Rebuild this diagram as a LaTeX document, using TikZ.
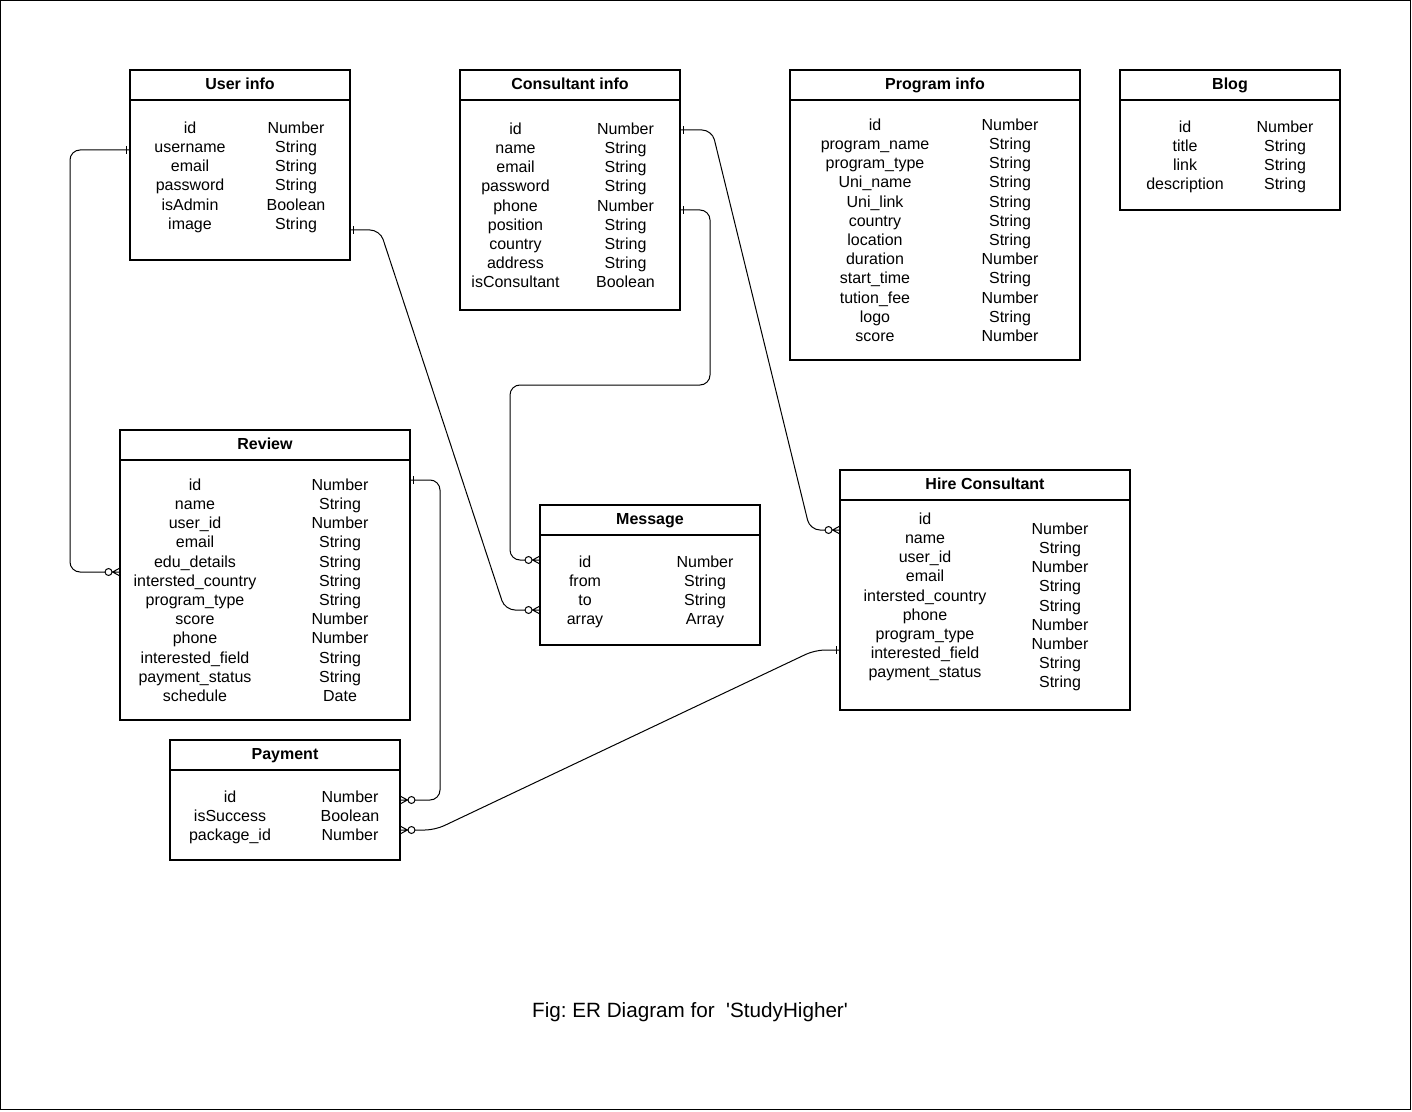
\documentclass[tikz,border=0pt]{standalone}
\usepackage{fontspec}
\setmainfont{Liberation Sans}
\usetikzlibrary{calc}

% crow's foot ends
\pgfdeclarearrow{
  name = ERmany,
  setup code = {
    \pgfarrowssettipend{0pt}
    \pgfarrowssetlineend{-11.2pt}
    \pgfarrowssetbackend{-11.2pt}
    \pgfarrowssetvisualbackend{-11.2pt}
  },
  drawing code = {
    \pgfsetdash{}{0pt}
    \pgfpathcircle{\pgfpoint{-8.6pt}{0pt}}{2.6pt}
    \pgfpathmoveto{\pgfpoint{-6pt}{0pt}}
    \pgfpathlineto{\pgfpoint{0pt}{0pt}}
    \pgfpathmoveto{\pgfpoint{0pt}{3pt}}
    \pgfpathlineto{\pgfpoint{-5.6pt}{0pt}}
    \pgfpathlineto{\pgfpoint{0pt}{-3pt}}
    \pgfusepathqstroke
  }
}
\pgfdeclarearrow{
  name = ERone,
  setup code = {
    \pgfarrowssettipend{0pt}
    \pgfarrowssetlineend{0pt}
    \pgfarrowssetbackend{-3pt}
    \pgfarrowssetvisualbackend{-3pt}
  },
  drawing code = {
    \pgfsetdash{}{0pt}
    \pgfpathmoveto{\pgfpoint{-2.5pt}{3pt}}
    \pgfpathlineto{\pgfpoint{-2.5pt}{-3pt}}
    \pgfusepathqstroke
  }
}

\tikzset{
  entity/.style={draw, line width=0.8pt, rectangle, inner sep=0pt, outer sep=0pt, anchor=north west},
  ehead/.style={draw, line width=0.8pt, minimum height=22.5pt, inner sep=0pt, outer sep=0pt, anchor=north,
    text height=8.6pt, text depth=2.0pt, font=\fontsize{12pt}{14.4pt}\selectfont\bfseries},
  attr/.style={align=center, inner sep=0pt, anchor=north},
  rel/.style={line width=0.75pt, rounded corners=7.5pt},
}

\begin{document}
\begin{tikzpicture}[x=0.75pt, y=-0.75pt, font=\fontsize{12pt}{14.4pt}\selectfont]
    \useasboundingbox (0,0) rectangle (1412,1112);
    % Khung ngoài
    \draw[line width=1pt] (0.7,0.7) rectangle (1410.6,1109.6);

    % User info
    \node[entity, minimum width=165pt, minimum height=142.5pt] (user) at (130,70) {};
    \node[ehead, minimum width=165pt] (userT) at (user.north) {User info};
    \node[attr] (userK) at (190,121.5) {id\\username\\email\\password\\isAdmin\\image};
    \node[attr] (userV) at (296,121.5) {Number\\String\\String\\String\\Boolean\\String};

    % Consultant info
    \node[entity, minimum width=165pt, minimum height=180pt] (cons) at (460,70) {};
    \node[ehead, minimum width=165pt] (consT) at (cons.north) {Consultant info};
    \node[attr] (consK) at (515.5,122.5) {id\\name\\email\\password\\phone\\position\\country\\address\\isConsultant};
    \node[attr] (consV) at (625.5,122.5) {Number\\String\\String\\String\\Number\\String\\String\\String\\Boolean};

    % Program info
    \node[entity, minimum width=217.5pt, minimum height=217.5pt] (prog) at (790,70) {};
    \node[ehead, minimum width=217.5pt] (progT) at (prog.north) {Program info};
    \node[attr] (progK) at (875,118.5) {id\\program\_name\\program\_type\\Uni\_name\\Uni\_link\\country\\location\\duration\\start\_time\\tution\_fee\\logo\\score};
    \node[attr] (progV) at (1010,118.5) {Number\\String\\String\\String\\String\\String\\String\\Number\\String\\Number\\String\\Number};

    % Blog
    \node[entity, minimum width=165pt, minimum height=105pt] (blog) at (1120,70) {};
    \node[ehead, minimum width=165pt] (blogT) at (blog.north) {Blog};
    \node[attr] (blogK) at (1185,120.5) {id\\title\\link\\description};
    \node[attr] (blogV) at (1285,120.5) {Number\\String\\String\\String};

    % Review
    \node[entity, minimum width=217.5pt, minimum height=217.5pt] (review) at (120,430) {};
    \node[ehead, minimum width=217.5pt] (reviewT) at (review.north) {Review};
    \node[attr] (reviewK) at (195,478.5) {id\\name\\user\_id\\email\\edu\_details\\intersted\_country\\program\_type\\score\\phone\\interested\_field\\payment\_status\\schedule};
    \node[attr] (reviewV) at (340,478.5) {Number\\String\\Number\\String\\String\\String\\String\\Number\\Number\\String\\String\\Date};

    % Message
    \node[entity, minimum width=165pt, minimum height=105pt] (msg) at (540,505) {};
    \node[ehead, minimum width=165pt] (msgT) at (msg.north) {Message};
    \node[attr] (msgK) at (585,555.5) {id\\from\\to\\array};
    \node[attr] (msgV) at (705,555.5) {Number\\String\\String\\Array};

    % Hire Consultant
    \node[entity, minimum width=217.5pt, minimum height=180pt] (hire) at (840,470) {};
    \node[ehead, minimum width=217.5pt] (hireT) at (hire.north) {Hire Consultant};
    \node[attr] (hireK) at (925,512.5) {id\\name\\user\_id\\email\\intersted\_country\\phone\\program\_type\\interested\_field\\payment\_status};
    \node[attr] (hireV) at (1060,522.5) {Number\\String\\Number\\String\\String\\Number\\Number\\String\\String};

    % Payment
    \node[entity, minimum width=172.5pt, minimum height=90pt] (pay) at (170,740) {};
    \node[ehead, minimum width=172.5pt] (payT) at (pay.north) {Payment};
    \node[attr] (payK) at (230,790.5) {id\\isSuccess\\package\_id};
    \node[attr] (payV) at (350,790.5) {Number\\Boolean\\Number};

    % Quan hệ
    \draw[rel, {ERone}-{ERmany}] ($(user.north west)+(0,80)$) -- (70,150) -- (70,572) -- ($(review.north west)+(0,142)$);
    \draw[rel, {ERone}-{ERmany}] ($(user.north east)+(0,160)$) -- (380,230) -- (505,610) -- ($(msg.north west)+(0,105)$);
    \draw[rel, {ERone}-{ERmany}] ($(cons.north east)+(0,60)$) -- (712,130) -- (810,530) -- ($(hire.north west)+(0,60)$);
    \draw[rel, {ERone}-{ERmany}] ($(cons.north east)+(0,140)$) -- (710,210) -- (710,385) -- (510,385) -- (510,560) -- ($(msg.north west)+(0,55)$);
    \draw[rel, {ERone}-{ERmany}] ($(review.north east)+(0,50)$) -- (440,480) -- (440,800) -- ($(pay.north east)+(0,60)$);
    \draw[rel, {ERone}-{ERmany}] ($(hire.north west)+(0,180)$) -- (815,650) -- (435,830) -- ($(pay.north east)+(0,90)$);

    % Chú thích
    \node[anchor=base, inner sep=0pt, font=\fontsize{15.5pt}{18.6pt}\selectfont] (cap) at (690,1017.3)
        {Fig:\ ER Diagram for\ \ \textquotesingle StudyHigher\textquotesingle};
\end{tikzpicture}
\end{document}
